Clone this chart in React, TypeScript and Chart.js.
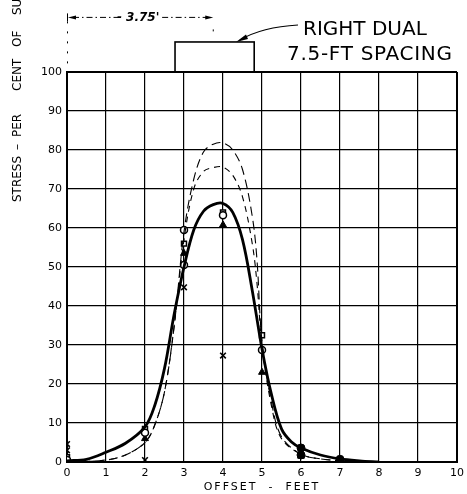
import { useEffect, useRef } from "react";
import { Chart, registerables } from "chart.js";
Chart.register(...registerables);

const xTickLabels = ["0", "1", "2", "3", "4", "5", "6", "7", "8", "9", "10"];
const yTickLabels = ["0", "10", "20", "30", "40", "50", "60", "70", "80", "90", "100"];

const solidX = [0, 0.5, 1, 1.5, 2, 2.25, 2.5, 2.75, 3, 3.25, 3.5, 3.75, 4, 4.25, 4.5, 4.75, 5, 5.25, 5.5, 5.75, 6, 6.5, 7, 7.5, 8];
const solidY = [0.3, 0.7, 2.5, 4.8, 9, 14.5, 24, 38, 50, 59.5, 64.3, 66, 66.3, 64, 57, 44, 29, 17, 8.5, 5.2, 3.6, 1.8, 0.8, 0.3, 0];

const dashAX = [0, 1, 1.5, 2, 2.25, 2.5, 2.75, 3, 3.25, 3.5, 3.75, 4, 4.25, 4.5, 4.75, 4.87, 5, 5.25, 5.5, 6, 6.5, 7];
const dashAY = [0, 0.5, 1.8, 5, 9.5, 18, 35, 59, 72.5, 79.5, 81.5, 81.8, 80, 75, 63, 52, 31, 15, 6.5, 2, 0.8, 0.3];

const dashBX = [0, 1, 1.5, 2, 2.25, 2.5, 2.75, 3, 3.25, 3.5, 3.75, 4, 4.25, 4.5, 4.75, 4.87, 5, 5.25, 5.5, 6, 6.5, 7];
const dashBY = [0, 0.5, 1.8, 5, 9.5, 18, 35, 57, 70, 74.5, 75.5, 75.6, 73.5, 68, 56, 46, 30, 14, 6, 2, 0.8, 0.3];

const openCircleX = [0, 2, 3, 3, 4, 5];
const openCircleY = [0.5, 7.5, 59.5, 50.5, 63.3, 28.7];
const openSquareX = [0, 2, 3, 4, 5];
const openSquareY = [1.2, 8.5, 56, 64, 32.5];
const triangleX = [0, 2, 3, 4, 5, 6];
const triangleY = [0.8, 6, 53.5, 60.8, 23, 1.5];
const crossX = [0, 0, 2, 3, 4];
const crossY = [4.6, 3, 0.5, 44.8, 27.3];
const dotX = [6, 6, 7];
const dotY = [3.6, 1.8, 0.7];

const dualCenter = 3.75;
const boxLeft = 2.77;
const boxRight = 4.8;
const boxTop = 107.7;
const dimLineY = 114;

// y-axis title words and where each one starts (canvas y, text runs upward)
const yTitleWords = ["STRESS", "–", "PER", "CENT", "OF", "SURFACE"];
const yTitleStarts = [202, 150, 137, 91, 47, 15];

const pts = (xs: number[], ys: number[]) => xs.map((x, i) => ({ x, y: ys[i] }));

const FONT = "'DejaVu Sans', 'Liberation Sans', sans-serif";

const annotPlugin = {
  id: "annot",
  afterDraw(chart: any) {
    const { ctx, chartArea } = chart;
    const xs = chart.scales.x;
    const ys = chart.scales.y;
    ctx.save();
    ctx.strokeStyle = "#000";
    ctx.fillStyle = "#000";

    // dual tire box
    const bl = xs.getPixelForValue(boxLeft);
    const br = xs.getPixelForValue(boxRight);
    const bt = ys.getPixelForValue(boxTop);
    ctx.lineWidth = 1.6;
    ctx.strokeRect(bl, bt, br - bl, chartArea.top - bt);

    // dimension line 3.75'
    const x0 = xs.getPixelForValue(0);
    const x1 = xs.getPixelForValue(dualCenter);
    const dy = ys.getPixelForValue(dimLineY);
    const mid = (x0 + x1) / 2;
    ctx.lineWidth = 1;
    ctx.setLineDash([6, 3, 1.5, 3]);
    ctx.beginPath();
    ctx.moveTo(x0 + 6, dy);
    ctx.lineTo(mid - 22, dy);
    ctx.moveTo(mid + 22, dy);
    ctx.lineTo(x1 - 6, dy);
    ctx.stroke();
    // extension lines
    ctx.setLineDash([2, 8]);
    ctx.beginPath();
    ctx.moveTo(x0 + 0.5, dy + 4);
    ctx.lineTo(x0 + 0.5, chartArea.top);
    ctx.moveTo(x1, dy + 12);
    ctx.lineTo(x1, dy + 18);
    ctx.stroke();
    ctx.setLineDash([]);
    ctx.beginPath();
    ctx.moveTo(x0 + 0.5, dy - 4);
    ctx.lineTo(x0 + 0.5, dy + 4);
    ctx.stroke();
    // arrowheads
    ctx.beginPath();
    ctx.moveTo(x0 + 1, dy);
    ctx.lineTo(x0 + 9, dy - 2);
    ctx.lineTo(x0 + 9, dy + 2);
    ctx.closePath();
    ctx.fill();
    ctx.beginPath();
    ctx.moveTo(x1, dy);
    ctx.lineTo(x1 - 8, dy - 2);
    ctx.lineTo(x1 - 8, dy + 2);
    ctx.closePath();
    ctx.fill();
    ctx.font = `italic bold 12px ${FONT}`;
    ctx.textAlign = "center";
    ctx.textBaseline = "middle";
    ctx.fillText("- 3.75'", mid - 2, dy);

    // leader arrow to box
    ctx.lineWidth = 1.2;
    ctx.beginPath();
    ctx.moveTo(298, 25);
    ctx.quadraticCurveTo(262, 27, 240, 40);
    ctx.stroke();
    ctx.beginPath();
    ctx.moveTo(236, 42);
    ctx.lineTo(246, 34.5);
    ctx.lineTo(248, 39);
    ctx.closePath();
    ctx.fill();

    // labels
    ctx.font = `20px ${FONT}`;
    ctx.textAlign = "left";
    ctx.textBaseline = "middle";
    ctx.fillText("RIGHT DUAL", 303, 30);
    (ctx as any).letterSpacing = "0.7px";
    ctx.fillText("7.5-FT SPACING", 287, 55);

    // y axis title (rotated)
    ctx.save();
    (ctx as any).letterSpacing = "0px";
    ctx.font = `12px ${FONT}`;
    ctx.translate(18, 0);
    ctx.rotate(-Math.PI / 2);
    ctx.textAlign = "left";
    ctx.textBaseline = "middle";
    yTitleWords.forEach((w, i) => ctx.fillText(w, -yTitleStarts[i], 0));
    ctx.restore();

    // x axis title
    (ctx as any).letterSpacing = "2px";
    ctx.font = `11px ${FONT}`;
    ctx.textAlign = "center";
    ctx.textBaseline = "middle";
    ctx.fillText("OFFSET  -  FEET", (chartArea.left + chartArea.right) / 2, 487);
    ctx.restore();
  },
};

export default function App() {
  const ref = useRef<HTMLCanvasElement | null>(null);
  useEffect(() => {
    if (!ref.current) return;
    const chart = new Chart(ref.current, {
      type: "line",
      data: {
        datasets: [
          { label: "solid", data: pts(solidX, solidY), borderColor: "#000", borderWidth: 2.8, pointRadius: 0, tension: 0.35, fill: false },
          { label: "dashA", data: pts(dashAX, dashAY), borderColor: "#000", borderWidth: 1.1, borderDash: [9, 5], pointRadius: 0, tension: 0.35, fill: false },
          { label: "dashB", data: pts(dashBX, dashBY), borderColor: "#000", borderWidth: 1.1, borderDash: [6, 5], pointRadius: 0, tension: 0.35, fill: false },
          { label: "circles", data: pts(openCircleX, openCircleY), showLine: false, pointStyle: "circle", pointRadius: 3.5, borderColor: "#000", backgroundColor: "#fff", borderWidth: 1.5 },
          { label: "squares", data: pts(openSquareX, openSquareY), showLine: false, pointStyle: "rect", pointRadius: 3.5, borderColor: "#000", backgroundColor: "#fff", borderWidth: 1.5 },
          { label: "triangles", data: pts(triangleX, triangleY), showLine: false, pointStyle: "triangle", pointRadius: 4, borderColor: "#000", backgroundColor: "#000", borderWidth: 1 },
          { label: "crosses", data: pts(crossX, crossY), showLine: false, pointStyle: "crossRot", pointRadius: 4, borderColor: "#000", borderWidth: 1.6 },
          { label: "dots", data: pts(dotX, dotY), showLine: false, pointStyle: "circle", pointRadius: 4, borderColor: "#000", backgroundColor: "#000", borderWidth: 1 },
        ],
      },
      options: {
        animation: false,
        responsive: false,
        devicePixelRatio: 1,
        layout: { padding: { top: 72, right: 10, left: 0, bottom: 0 } },
        plugins: { legend: { display: false }, tooltip: { enabled: false } },
        scales: {
          x: {
            type: "linear",
            min: 0,
            max: 10,
            afterFit: (s: any) => { s.height = 32; s.paddingLeft = 0; s.paddingRight = 0; },
            ticks: {
              stepSize: 1,
              padding: 5,
              color: "#000",
              font: { family: FONT, size: 11 },
              callback: (v: any) => xTickLabels[Math.round(v)] ?? "",
            },
            grid: {
              color: "#000",
              drawTicks: false,
              lineWidth: (c: any) => (c.tick && (c.tick.value === 0 || c.tick.value === 10) ? 2 : 1.2),
            },
            border: { display: true, color: "#000", width: 2 },
          },
          y: {
            type: "linear",
            min: 0,
            max: 100,
            afterFit: (s: any) => { s.width = 67; s.paddingTop = 0; s.paddingBottom = 0; },
            ticks: {
              stepSize: 10,
              padding: 5,
              color: "#000",
              font: { family: FONT, size: 11 },
              callback: (v: any) => yTickLabels[Math.round(v / 10)] ?? "",
            },
            grid: {
              color: "#000",
              drawTicks: false,
              lineWidth: (c: any) => (c.tick && (c.tick.value === 0 || c.tick.value === 100) ? 2 : 1.2),
            },
            border: { display: true, color: "#000", width: 2 },
          },
        },
      },
      plugins: [annotPlugin],
    } as any);
    return () => chart.destroy();
  }, []);
  return (
    <div style={{ position: "absolute", left: 0, top: 0, width: 467, height: 494, background: "#fff" }}>
      <canvas ref={ref} width={467} height={494} style={{ display: "block" }} />
    </div>
  );
}
